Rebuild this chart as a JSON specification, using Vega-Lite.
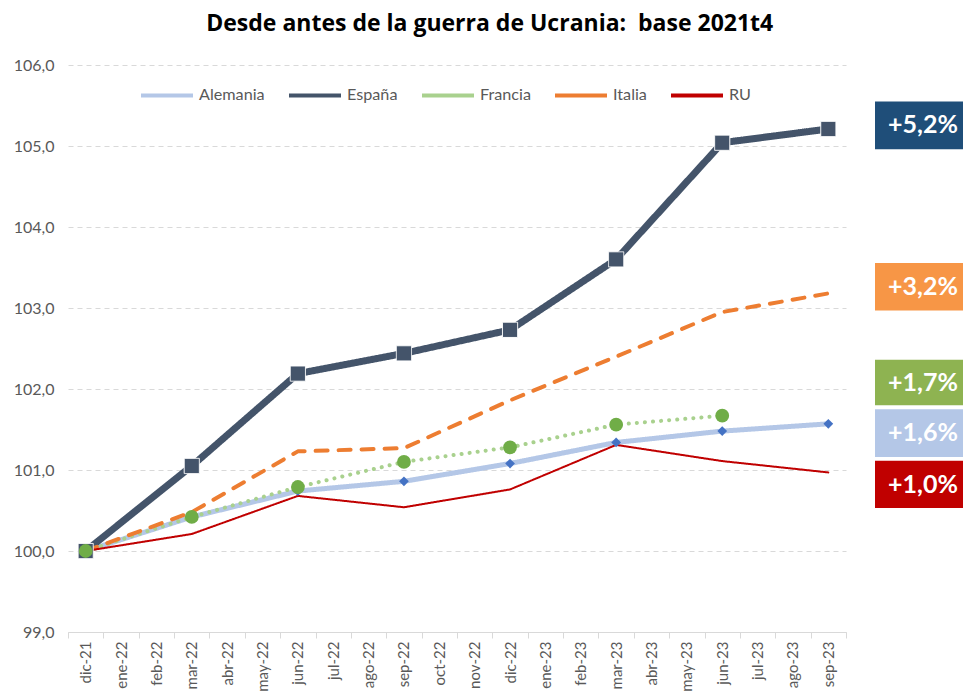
{
  "$schema": "https://vega.github.io/schema/vega-lite/v6.json",
  "background": "white",
  "padding": {"left": 13, "top": 13, "right": 0, "bottom": 0},
  "config": {"view": {"stroke": null}, "font": "Lato"},
  "title": {"text": "Desde antes de la guerra de Ucrania:\u00a0 base 2021t4", "font": "Open Sans", "fontSize": 23, "fontWeight": "bold", "color": "#000000", "anchor": "start", "dx": 193, "offset": 21},
  "spacing": 28,
  "resolve": {"scale": {"color": "independent"}, "legend": {"color": "independent"}},
  "datasets": {
    "series": [
      {"mes": "dic-21", "pais": "Alemania", "valor": 100.0},
      {"mes": "mar-22", "pais": "Alemania", "valor": 100.42},
      {"mes": "jun-22", "pais": "Alemania", "valor": 100.74},
      {"mes": "sep-22", "pais": "Alemania", "valor": 100.86},
      {"mes": "dic-22", "pais": "Alemania", "valor": 101.08},
      {"mes": "mar-23", "pais": "Alemania", "valor": 101.34},
      {"mes": "jun-23", "pais": "Alemania", "valor": 101.48},
      {"mes": "sep-23", "pais": "Alemania", "valor": 101.57},
      {"mes": "dic-21", "pais": "España", "valor": 100.0},
      {"mes": "mar-22", "pais": "España", "valor": 101.05},
      {"mes": "jun-22", "pais": "España", "valor": 102.19},
      {"mes": "sep-22", "pais": "España", "valor": 102.44},
      {"mes": "dic-22", "pais": "España", "valor": 102.73},
      {"mes": "mar-23", "pais": "España", "valor": 103.6},
      {"mes": "jun-23", "pais": "España", "valor": 105.04},
      {"mes": "sep-23", "pais": "España", "valor": 105.21},
      {"mes": "dic-21", "pais": "Francia", "valor": 100.0},
      {"mes": "mar-22", "pais": "Francia", "valor": 100.42},
      {"mes": "jun-22", "pais": "Francia", "valor": 100.79},
      {"mes": "sep-22", "pais": "Francia", "valor": 101.1},
      {"mes": "dic-22", "pais": "Francia", "valor": 101.28},
      {"mes": "mar-23", "pais": "Francia", "valor": 101.56},
      {"mes": "jun-23", "pais": "Francia", "valor": 101.67},
      {"mes": "dic-21", "pais": "Italia", "valor": 100.0},
      {"mes": "mar-22", "pais": "Italia", "valor": 100.48},
      {"mes": "jun-22", "pais": "Italia", "valor": 101.23},
      {"mes": "sep-22", "pais": "Italia", "valor": 101.27},
      {"mes": "dic-22", "pais": "Italia", "valor": 101.86},
      {"mes": "mar-23", "pais": "Italia", "valor": 102.4},
      {"mes": "jun-23", "pais": "Italia", "valor": 102.95},
      {"mes": "sep-23", "pais": "Italia", "valor": 103.18},
      {"mes": "dic-21", "pais": "RU", "valor": 100.0},
      {"mes": "mar-22", "pais": "RU", "valor": 100.21},
      {"mes": "jun-22", "pais": "RU", "valor": 100.68},
      {"mes": "sep-22", "pais": "RU", "valor": 100.54},
      {"mes": "dic-22", "pais": "RU", "valor": 100.76},
      {"mes": "mar-23", "pais": "RU", "valor": 101.31},
      {"mes": "jun-23", "pais": "RU", "valor": 101.11},
      {"mes": "sep-23", "pais": "RU", "valor": 100.97}
    ],
    "etiquetas": [
      {"etiqueta": "+5,2%", "sup": 105.55, "inf": 104.96, "centro": 105.255},
      {"etiqueta": "+3,2%", "sup": 103.555, "inf": 102.97, "centro": 103.26},
      {"etiqueta": "+1,7%", "sup": 102.36, "inf": 101.8, "centro": 102.08},
      {"etiqueta": "+1,6%", "sup": 101.75, "inf": 101.16, "centro": 101.455},
      {"etiqueta": "+1,0%", "sup": 101.115, "inf": 100.53, "centro": 100.82}
    ]
  },
  "hconcat": [
    {
      "width": 778,
      "height": 567,
      "data": {"name": "series"},
      "encoding": {
        "x": {
          "field": "mes", "type": "ordinal",
          "scale": {"type": "band", "paddingInner": 0, "paddingOuter": 0,
            "domain": ["dic-21","ene-22","feb-22","mar-22","abr-22","may-22","jun-22","jul-22","ago-22","sep-22","oct-22","nov-22","dic-22","ene-23","feb-23","mar-23","abr-23","may-23","jun-23","jul-23","ago-23","sep-23"]},
          "axis": {"title": null, "labelAngle": -90, "labelFontSize": 15, "labelColor": "#595959", "labelFont": "Lato", "tickBand": "extent", "ticks": true, "tickColor": "#D9D9D9", "tickSize": 6, "domainColor": "#D9D9D9", "grid": false, "labelPadding": 3}
        },
        "y": {
          "field": "valor", "type": "quantitative",
          "scale": {"domain": [99, 106], "nice": false, "zero": false},
          "axis": {"title": null, "values": [99,100,101,102,103,104,105,106], "labelExpr": "replace(format(datum.value, '.1f'), '.', ',')", "labelFontSize": 16, "labelColor": "#595959", "labelFont": "Lato", "ticks": false, "domain": false, "grid": true, "gridDash": [5,4], "gridColor": "#D9D9D9", "labelPadding": 14}
        },
        "color": {"field": "pais", "type": "nominal",
          "scale": {"domain": ["Alemania","España","Francia","Italia","RU"], "range": ["#B4C7E7","#44546A","#A9D18E","#ED7D31","#C00000"]},
          "legend": {"orient": "none", "legendX": 71, "legendY": 2, "direction": "horizontal", "title": null, "symbolType": "stroke", "symbolSize": 2704, "symbolStrokeWidth": 4, "labelFontSize": 16.2, "labelColor": "#595959", "labelFont": "Lato", "columnPadding": 16, "labelOffset": 4}},
        "strokeDash": {"field": "pais", "type": "nominal",
          "scale": {"domain": ["Alemania","España","Francia","Italia","RU"], "range": [[1,0],[1,0],[0.1,8],[12,11],[1,0]]}}
      },
      "layer": [
        {
          "transform": [{"filter": "datum.pais === 'Alemania'"}],
          "mark": {"type": "line", "strokeCap": "round", "strokeJoin": "round", "strokeWidth": 5}
        },
        {
          "transform": [{"filter": "datum.pais === 'España'"}],
          "mark": {"type": "line", "strokeCap": "round", "strokeJoin": "round", "strokeWidth": 7}
        },
        {
          "transform": [{"filter": "datum.pais === 'Francia'"}],
          "mark": {"type": "line", "strokeCap": "round", "strokeJoin": "round", "strokeWidth": 4}
        },
        {
          "transform": [{"filter": "datum.pais === 'Italia'"}],
          "mark": {"type": "line", "strokeCap": "round", "strokeJoin": "round", "strokeWidth": 4}
        },
        {
          "transform": [{"filter": "datum.pais === 'RU'"}],
          "mark": {"type": "line", "strokeCap": "round", "strokeJoin": "round", "strokeWidth": 2}
        },
        {
          "transform": [{"filter": "datum.pais === 'Alemania'"}],
          "mark": {"type": "point", "shape": "diamond", "filled": true, "size": 95, "opacity": 1},
          "encoding": {"color": {"value": "#4472C4"}, "strokeDash": {"value": [1,0]}}
        },
        {
          "transform": [{"filter": "datum.pais === 'España'"}],
          "mark": {"type": "point", "shape": "square", "filled": true, "size": 230, "stroke": "white", "strokeWidth": 1, "opacity": 1},
          "encoding": {"color": {"value": "#44546A"}, "strokeDash": {"value": [1,0]}}
        },
        {
          "transform": [{"filter": "datum.pais === 'Francia'"}],
          "mark": {"type": "point", "shape": "circle", "filled": true, "size": 190, "opacity": 1},
          "encoding": {"color": {"value": "#70AD47"}, "strokeDash": {"value": [1,0]}}
        }
      ]
    },
    {
      "width": 100,
      "height": 567,
      "data": {"name": "etiquetas"},
      "layer": [
        {
          "mark": {"type": "rect"},
          "encoding": {
            "y": {"field": "sup", "type": "quantitative", "scale": {"domain": [99, 106], "nice": false, "zero": false}, "axis": null},
            "y2": {"field": "inf"},
            "color": {"field": "etiqueta", "type": "nominal", "legend": null,
              "scale": {"domain": ["+5,2%","+3,2%","+1,7%","+1,6%","+1,0%"], "range": ["#1F4E79","#F79646","#8EB351","#B4C7E7","#C00000"]}}
          }
        },
        {
          "mark": {"type": "text", "color": "white", "font": "Lato", "fontSize": 25, "fontWeight": "bold", "align": "center", "baseline": "middle", "dx": -2},
          "encoding": {
            "y": {"field": "centro", "type": "quantitative", "scale": {"domain": [99, 106], "nice": false, "zero": false}, "axis": null},
            "text": {"field": "etiqueta"}
          }
        }
      ]
    }
  ]
}
